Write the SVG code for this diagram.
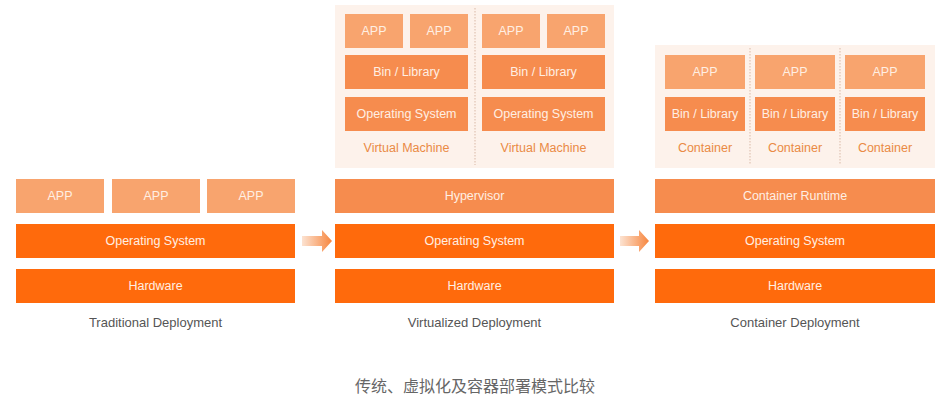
<svg xmlns="http://www.w3.org/2000/svg" width="950" height="408" viewBox="0 0 950 408">
<defs>
<style>
.dark{fill:#FF6A0C}
.mid{fill:#F68C4E}
.light{fill:#F8A46E}
.panel{fill:#FDF2EB}
.t{font-family:"Liberation Sans",Arial,sans-serif;font-size:12.5px;fill:#FFEFE3;text-anchor:middle;dominant-baseline:central}
.lbl{font-family:"Liberation Sans",Arial,sans-serif;font-size:13px;fill:#555;text-anchor:middle;dominant-baseline:central}
.sub{font-family:"Liberation Sans",Arial,sans-serif;font-size:12.5px;fill:#EA8A45;text-anchor:middle;dominant-baseline:central}
.div{stroke:#D9B9A6;stroke-width:1;stroke-dasharray:1.5 1.5;fill:none}
.cap{font-family:"Noto Sans CJK SC","Noto Sans",sans-serif;font-size:16px;fill:#666;text-anchor:middle;dominant-baseline:central}
</style>
<linearGradient id="ag" x1="0" y1="0" x2="1" y2="0">
<stop offset="0" stop-color="#FCE3D2"/>
<stop offset="1" stop-color="#F7863E"/>
</linearGradient>
</defs>
<rect width="950" height="408" fill="#FFFFFF"/>

<g id="traditional">
<rect class="light" x="16" y="179" width="88" height="34"/><text class="t" x="60" y="196">APP</text>
<rect class="light" x="112" y="179" width="88" height="34"/><text class="t" x="156" y="196">APP</text>
<rect class="light" x="207" y="179" width="88" height="34"/><text class="t" x="251" y="196">APP</text>
<rect class="dark" x="16" y="224" width="279" height="34"/><text class="t" x="155.5" y="241">Operating System</text>
<rect class="dark" x="16" y="269" width="279" height="34"/><text class="t" x="155.5" y="286">Hardware</text>
<text class="lbl" x="155.5" y="322">Traditional Deployment</text>
</g>

<g id="virtualized">
<rect class="panel" x="335" y="5" width="279" height="163"/>
<line class="div" x1="475" y1="8" x2="475" y2="165"/>
<rect class="light" x="345" y="14" width="58" height="34"/><text class="t" x="374" y="31">APP</text>
<rect class="light" x="410" y="14" width="58" height="34"/><text class="t" x="439" y="31">APP</text>
<rect class="light" x="482" y="14" width="58" height="34"/><text class="t" x="511" y="31">APP</text>
<rect class="light" x="547" y="14" width="58" height="34"/><text class="t" x="576" y="31">APP</text>
<rect class="mid" x="345" y="55" width="123" height="34"/><text class="t" x="406.5" y="72">Bin / Library</text>
<rect class="mid" x="482" y="55" width="123" height="34"/><text class="t" x="543.5" y="72">Bin / Library</text>
<rect class="mid" x="345" y="97" width="123" height="34"/><text class="t" x="406.5" y="114">Operating System</text>
<rect class="mid" x="482" y="97" width="123" height="34"/><text class="t" x="543.5" y="114">Operating System</text>
<text class="sub" x="406.5" y="148">Virtual Machine</text>
<text class="sub" x="543.5" y="148">Virtual Machine</text>
<rect class="mid" x="335" y="179" width="279" height="34"/><text class="t" x="474.5" y="196">Hypervisor</text>
<rect class="dark" x="335" y="224" width="279" height="34"/><text class="t" x="474.5" y="241">Operating System</text>
<rect class="dark" x="335" y="269" width="279" height="34"/><text class="t" x="474.5" y="286">Hardware</text>
<text class="lbl" x="474.5" y="322">Virtualized Deployment</text>
</g>

<g id="container">
<rect class="panel" x="655" y="45" width="280" height="123"/>
<line class="div" x1="750" y1="48" x2="750" y2="165"/>
<line class="div" x1="840" y1="48" x2="840" y2="165"/>
<rect class="light" x="665" y="55" width="80" height="34"/><text class="t" x="705" y="72">APP</text>
<rect class="light" x="755" y="55" width="80" height="34"/><text class="t" x="795" y="72">APP</text>
<rect class="light" x="845" y="55" width="80" height="34"/><text class="t" x="885" y="72">APP</text>
<rect class="mid" x="665" y="97" width="80" height="34"/><text class="t" x="705" y="114">Bin / Library</text>
<rect class="mid" x="755" y="97" width="80" height="34"/><text class="t" x="795" y="114">Bin / Library</text>
<rect class="mid" x="845" y="97" width="80" height="34"/><text class="t" x="885" y="114">Bin / Library</text>
<text class="sub" x="705" y="148">Container</text>
<text class="sub" x="795" y="148">Container</text>
<text class="sub" x="885" y="148">Container</text>
<rect class="mid" x="655" y="179" width="280" height="34"/><text class="t" x="795" y="196">Container Runtime</text>
<rect class="dark" x="655" y="224" width="280" height="34"/><text class="t" x="795" y="241">Operating System</text>
<rect class="dark" x="655" y="269" width="280" height="34"/><text class="t" x="795" y="286">Hardware</text>
<text class="lbl" x="795" y="322">Container Deployment</text>
</g>

<g id="connectors">
<path d="M302,236 H322 V230 L332,241 L322,252 V246 H302 Z" fill="url(#ag)"/>
<path d="M620,236 H639 V230 L649,241 L639,252 V246 H620 Z" fill="url(#ag)"/>
</g>

<text class="cap" x="475" y="385">传统、虚拟化及容器部署模式比较</text>
</svg>
